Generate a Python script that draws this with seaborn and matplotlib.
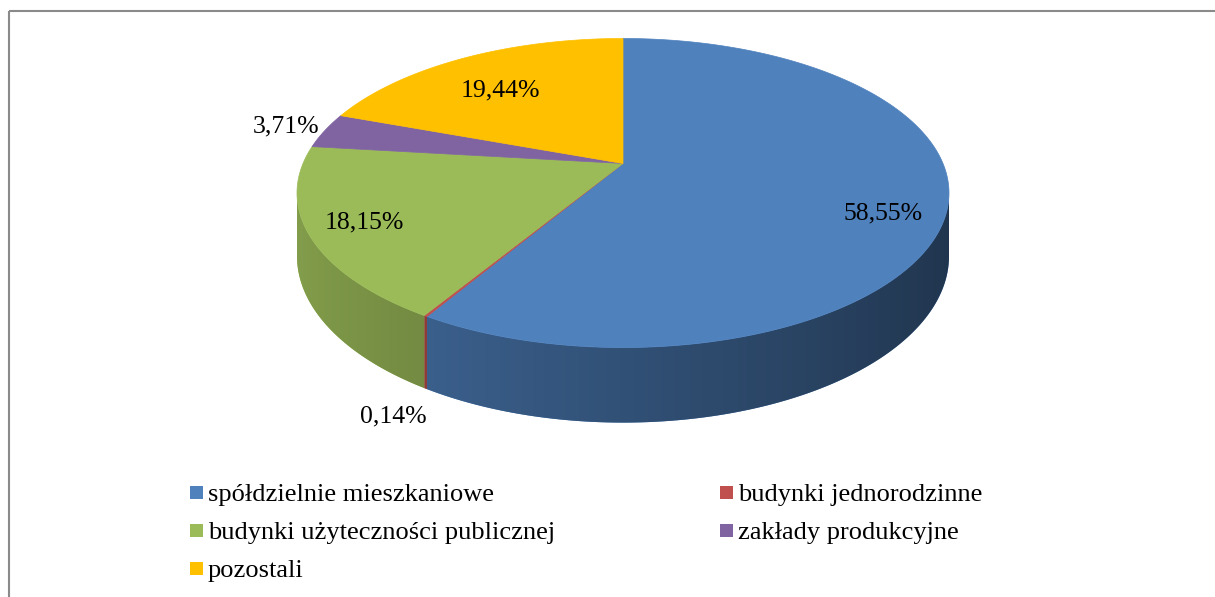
import numpy as np
import matplotlib
matplotlib.use("Agg")
import matplotlib.pyplot as plt
from matplotlib.patches import Polygon, Rectangle
import seaborn as sns

# ---- data -------------------------------------------------------------
categories = [
    "spółdzielnie mieszkaniowe",
    "budynki jednorodzinne",
    "budynki użyteczności publicznej",
    "zakłady produkcyjne",
    "pozostali",
]
shares = [58.55, 0.14, 18.15, 3.71, 19.44]
hex_colors = ["#4F81BD", "#C0504D", "#9BBB59", "#8064A2", "#FFC000"]

sns.set_theme(style="white")
plt.rcParams["font.family"] = ["Liberation Serif", "DejaVu Serif"]
palette = sns.color_palette(hex_colors)

W, H = 1215, 597
fig = plt.figure(figsize=(W / 100, H / 100), dpi=100)
ax = fig.add_axes([0, 0, 1, 1])
ax.set_xlim(0, W)
ax.set_ylim(H, 0)
ax.axis("off")

# ---- 3-D pie geometry (perspective view of a tilted disc) -------------
cx, cy = 623.0, 163.5      # projected centre of the disc
A, B = 320.0, 148.9        # horizontal / depth scale
k = 0.191                  # perspective strength
D = 60.7                   # thickness of the pie


def project(theta_deg, r=1.0):
    t = np.radians(theta_deg)
    X = r * np.sin(t)
    Z = r * np.cos(t)
    w = 1.0 + k * Z
    return cx + A * X / w, cy - B * Z / w, w


def shade_factor(theta_deg):
    return 0.626 - 0.223 * np.sin(np.radians(theta_deg))


total = sum(shares)
bounds = np.concatenate([[0.0], np.cumsum(shares) / total * 360.0])

# visible front wall lies between the two silhouette angles
th_right = np.degrees(np.arccos(-k))
th_left = 360.0 - th_right

# lookup from screen x to angle along the front wall (for the shading)
ts_front = np.linspace(th_right, th_left, 2000)
u_front, _, _ = project(ts_front)
order = np.argsort(u_front)
u_sorted, t_sorted = u_front[order], ts_front[order]

# side walls: one polygon per slice filled with a horizontal gradient
for i, col in enumerate(palette):
    a0 = max(bounds[i], th_right)
    a1 = min(bounds[i + 1], th_left)
    if a1 <= a0:
        continue
    n = max(2, int((a1 - a0) / 0.25) + 1)
    ts = np.linspace(a0, a1, n)
    u, v, w = project(ts)
    vb = v + D / w
    pts = list(zip(u, v)) + list(zip(u[::-1], vb[::-1]))
    wall = Polygon(pts, closed=True, facecolor=col, edgecolor="none",
                   zorder=2)
    ax.add_patch(wall)

    x0, x1 = u.min() - 2, u.max() + 2
    y0, y1 = v.min() - 2, vb.max() + 2
    ncols = max(2, int(x1 - x0) * 2)
    xs = np.linspace(x0, x1, ncols)
    th = np.interp(xs, u_sorted, t_sorted)
    rgb = np.clip(np.outer(shade_factor(th), np.array(col)), 0, 1)
    img = np.repeat(rgb[np.newaxis, :, :], 2, axis=0)
    im = ax.imshow(img, extent=(x0, x1, y1, y0), aspect="auto",
                   interpolation="bilinear", zorder=2.1)
    im.set_clip_path(wall)

# top faces
for i, col in enumerate(palette):
    a0, a1 = bounds[i], bounds[i + 1]
    n = max(3, int((a1 - a0) / 0.5) + 2)
    ts = np.linspace(a0, a1, n)
    u, v, _ = project(ts)
    pts = [(cx, cy)] + list(zip(u, v))
    ax.add_patch(Polygon(pts, closed=True, facecolor=col, edgecolor=col,
                         linewidth=0.5, zorder=3))

ax.set_xlim(0, W)
ax.set_ylim(H, 0)

# ---- value labels ------------------------------------------------------
label_pos = [(883, 219), (393, 422), (364, 228), (286, 132), (500, 96)]
for val, (x, y) in zip(shares, label_pos):
    ax.text(x, y, f"{val:.2f}".replace(".", ",") + "%", ha="center",
            va="baseline", fontsize=18.5, color="black", zorder=5)

# ---- legend ------------------------------------------------------------
legend_slots = [(190, 486), (720, 486), (190, 524), (720, 524), (190, 562)]
for name, col, (x, y) in zip(categories, palette, legend_slots):
    ax.add_patch(Rectangle((x, y), 13, 13, facecolor=col, edgecolor="none",
                           zorder=4))
    ax.text(x + 18, y + 14.5, name, ha="left", va="baseline", fontsize=19,
            color="black", zorder=5)

# ---- chart frame -------------------------------------------------------
ax.add_patch(Rectangle((8.5, 10.5), W + 20, H + 20, fill=False,
                       edgecolor="#8a8a8a", linewidth=1.5, zorder=6,
                       clip_on=True))

fig.savefig("out.png", dpi=100)
